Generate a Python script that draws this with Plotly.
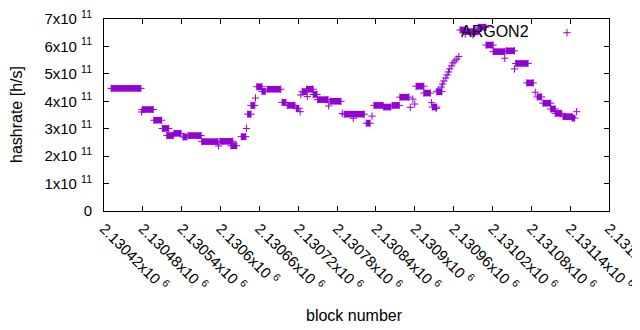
import plotly.graph_objects as go

# ---- data ----
# runs of consecutive blocks sharing (about) the same hashrate
run_start = [2130431, 2130479, 2130497, 2130510, 2130517, 2130528, 2130542, 2130550,
             2130571, 2130599, 2130616, 2130632, 2130642, 2130647, 2130656, 2130664,
             2130672, 2130695, 2130703, 2130717, 2130726, 2130733, 2130743, 2130750,
             2130769, 2130791, 2130825, 2130837, 2130852, 2130865, 2130877, 2130902,
             2130914, 2130927, 2130934, 2130970, 2130978, 2130998, 2131010, 2131021,
             2131041, 2131056, 2131073, 2131089, 2131098, 2131110, 2131117, 2131129,
             2131143]
run_end = [2130477, 2130496, 2130509, 2130520, 2130527, 2130539, 2130548, 2130570,
           2130596, 2130619, 2130625, 2130639, 2130647, 2130653, 2130664, 2130669,
           2130693, 2130701, 2130715, 2130721, 2130733, 2130743, 2130749, 2130766,
           2130786, 2130822, 2130831, 2130851, 2130863, 2130876, 2130891, 2130914,
           2130924, 2130934, 2130942, 2130978, 2130998, 2131010, 2131021, 2131039,
           2131054, 2131075, 2131083, 2131096, 2131110, 2131117, 2131127, 2131143,
           2131147]
run_hashrate = [4.47e11, 3.70e11, 3.31e11, 3.01e11, 2.75e11, 2.83e11, 2.70e11, 2.75e11,
                2.53e11, 2.54e11, 2.38e11, 2.71e11, 3.53e11, 3.85e11, 4.53e11, 4.36e11,
                4.44e11, 3.96e11, 3.85e11, 3.74e11, 4.35e11, 4.44e11, 4.25e11, 4.06e11,
                4.00e11, 3.53e11, 3.20e11, 3.85e11, 3.79e11, 3.85e11, 4.15e11, 4.55e11,
                4.30e11, 3.79e11, 4.35e11, 6.60e11, 6.54e11, 6.70e11, 6.05e11, 5.81e11,
                5.84e11, 5.38e11, 4.67e11, 4.16e11, 3.93e11, 3.72e11, 3.56e11, 3.44e11,
                3.39e11]

# isolated blocks
single_block = [2130478, 2130597, 2130640, 2130654, 2130723, 2130724, 2130734, 2130767,
                2130788, 2130805, 2130834, 2130893, 2130897, 2130900, 2130926, 2130933,
                2130937, 2130941, 2130943, 2130945, 2130948, 2130950, 2130952, 2130954,
                2130957, 2130959, 2130962, 2130965, 2130968, 2130978, 2130990, 2131039,
                2131054, 2131086, 2131150]
single_hashrate = [3.61e11, 2.37e11, 3.01e11, 4.12e11, 3.62e11, 4.23e11, 4.17e11, 3.83e11,
                   3.56e11, 3.38e11, 3.46e11, 3.78e11, 4.08e11, 3.90e11, 3.95e11, 3.74e11,
                   4.41e11, 4.52e11, 4.63e11, 4.74e11, 4.85e11, 4.96e11, 5.07e11, 5.18e11,
                   5.29e11, 5.40e11, 5.47e11, 5.54e11, 5.63e11, 6.45e11, 6.42e11, 5.57e11,
                   5.18e11, 4.33e11, 3.62e11]

x_tick_values = [2130420, 2130480, 2130540, 2130600, 2130660, 2130720, 2130780,
                 2130840, 2130900, 2130960, 2131020, 2131080, 2131140, 2131200]
x_tick_mantissa = ["2.13042", "2.13048", "2.13054", "2.1306", "2.13066", "2.13072",
                   "2.13078", "2.13084", "2.1309", "2.13096", "2.13102", "2.13108",
                   "2.13114", "2.1312"]
y_tick_values = [0, 1e11, 2e11, 3e11, 4e11, 5e11, 6e11, 7e11]
y_tick_labels = ["0", "1x10 <sup>11</sup>", "2x10 <sup>11</sup>", "3x10 <sup>11</sup>",
                 "4x10 <sup>11</sup>", "5x10 <sup>11</sup>", "6x10 <sup>11</sup>",
                 "7x10 <sup>11</sup>"]
series_name = "ARGON2"

COLOR = "#9400D3"
FONT = "Liberation Sans, Arial, sans-serif"
FS_TICK = 15
FS_TITLE = 16
marker = dict(symbol="cross-thin", size=5.2, color=COLOR,
              line=dict(color=COLOR, width=1))

# build run segments
rx, ry = [], []
for s, e, v in zip(run_start, run_end, run_hashrate):
    rx += [s, e, None]
    ry += [v, v, None]

fig = go.Figure()
fig.add_trace(go.Scatter(x=rx, y=ry, mode="lines+markers",
                         line=dict(color=COLOR, width=6.6),
                         marker=marker, showlegend=False, hoverinfo="skip"))
fig.add_trace(go.Scatter(x=single_block, y=single_hashrate, mode="markers",
                         marker=marker, showlegend=False, hoverinfo="skip"))
# key sample point (on an overlay paper-like axis)
fig.add_trace(go.Scatter(x=[0.9168], y=[0.9286], mode="markers", marker=marker,
                         xaxis="x2", yaxis="y2", showlegend=False, hoverinfo="skip"))

# the page body has an 8px margin, so the figure is 8px smaller than the window
fig.update_layout(
    width=632, height=322,
    margin=dict(l=96, r=31, t=11, b=119, autoexpand=False),
    paper_bgcolor="white", plot_bgcolor="white",
    font=dict(family=FONT, size=FS_TICK, color="black"),
    xaxis=dict(range=[2130420, 2131200], tickmode="array", tickvals=x_tick_values,
               ticktext=[m + "x10 <sup>6</sup>" for m in x_tick_mantissa],
               tickangle=45, ticks="inside", ticklen=5, tickcolor="black",
               showline=True, linecolor="black", linewidth=1, mirror="ticks",
               showgrid=False, zeroline=False, ticklabelstandoff=2,
               ticklabeloverflow="allow"),
    yaxis=dict(range=[0, 7e11], tickmode="array", tickvals=y_tick_values,
               ticktext=y_tick_labels, ticks="inside", ticklen=5, tickcolor="black",
               showline=True, linecolor="black", linewidth=1, mirror="ticks",
               showgrid=False, zeroline=False, ticklabelstandoff=8,
               ticklabeloverflow="allow"),
    xaxis2=dict(range=[0, 1], overlaying="x", visible=False),
    yaxis2=dict(range=[0, 1], overlaying="y", visible=False),
    annotations=[
        dict(text="block number", xref="paper", yref="paper", x=0.496, y=-0.5417,
             xanchor="center", yanchor="middle", showarrow=False,
             font=dict(family=FONT, size=FS_TITLE, color="black")),
        dict(text="hashrate [h/s]", xref="paper", yref="paper", x=-0.1743, y=0.505,
             xanchor="center", yanchor="middle", textangle=-90, showarrow=False,
             font=dict(family=FONT, size=FS_TITLE, color="black")),
        dict(text=series_name, xref="paper", yref="paper", x=0.8455, y=0.9323,
             xanchor="right", yanchor="middle", showarrow=False,
             font=dict(family=FONT, size=FS_TITLE, color="black")),
    ],
)

fig.write_html("out.html")
